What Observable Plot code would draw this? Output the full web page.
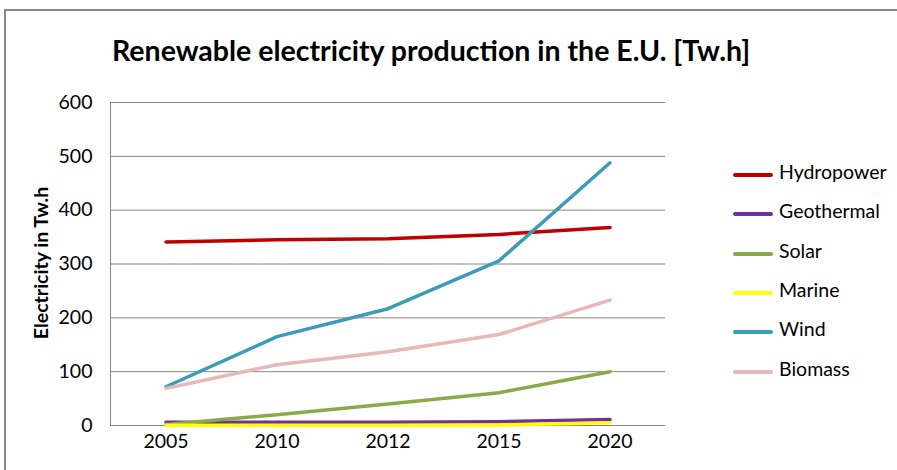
<!DOCTYPE html>
<html>
<head>
<meta charset="utf-8">
<script src="https://cdn.jsdelivr.net/npm/d3@7"></script>
<script src="https://cdn.jsdelivr.net/npm/@observablehq/plot@0.6"></script>
<style>
  html, body { margin: 0; padding: 0; background: #fff; }
  #wrap { position: relative; width: 897px; height: 470px; overflow: hidden; font-family: Lato, "Open Sans", sans-serif; }
  #frame { position: absolute; left: 4px; top: 9px; width: 1000px; height: 1000px; border: 2px solid #888; box-sizing: border-box; }
  #title { position: absolute; left: 112px; top: 33px; font-size: 28.5px; font-weight: bold; color: #000; white-space: nowrap; }
  #ylabel { position: absolute; left: 40px; top: 263px; transform: translate(-50%, -50%) rotate(-90deg); font-size: 19.5px; font-weight: bold; white-space: nowrap; }
  #chart { position: absolute; left: 0; top: 90px; }
  #legend { position: absolute; left: 733px; top: 0; }
  .li { position: absolute; left: 0; white-space: nowrap; font-size: 19.5px; color: #000; }
  .li .sw { position: absolute; left: 0; top: 0; width: 40px; height: 4px; border-radius: 2px; }
  .li span { position: absolute; left: 46px; top: -13px; }
</style>
</head>
<body>
<div id="wrap">
  <div id="frame"></div>
  <div id="title">Renewable electricity production in the E.U. [Tw.h]</div>
  <div id="ylabel">Electricity in Tw.h</div>
  <div id="chart"></div>
  <div id="legend"></div>
</div>
<script>
const years = ["2005", "2010", "2012", "2015", "2020"];
const seriesNames = ["Hydropower", "Geothermal", "Solar", "Marine", "Wind", "Biomass"];
const seriesColors = ["#c00000", "#7030a0", "#8aaa4a", "#ffff00", "#3c9bb8", "#e6b9b8"];
const hydropower = [341, 345, 347, 355, 368];
const geothermal = [6, 6, 6, 7, 11];
const solar = [2, 20, 40, 61, 100];
const marine = [0.5, 0.5, 0.5, 1, 5];
const wind = [72, 165, 217, 306, 488];
const biomass = [69, 113, 137, 169, 233];
const yTicks = [0, 100, 200, 300, 400, 500, 600];

const allValues = [hydropower, geothermal, solar, marine, wind, biomass];
const data = [];
seriesNames.forEach((s, i) => years.forEach((y, j) => data.push({series: s, year: y, value: allValues[i][j]})));

const chart = Plot.plot({
  width: 897,
  height: 370,
  marginLeft: 110,
  marginRight: 232,
  marginTop: 12,
  marginBottom: 35,
  style: {fontFamily: "Lato, 'Open Sans', sans-serif", fontSize: "19.5px", color: "#000", background: "transparent", overflow: "visible"},
  x: {type: "band", domain: years, padding: 0, label: null, tickSize: 0, tickPadding: 9},
  y: {domain: [0, 600], ticks: yTicks, label: null, tickSize: 0, tickPadding: 18},
  color: {domain: seriesNames, range: seriesColors},
  marks: [
    Plot.gridY(yTicks, {stroke: "#868686", strokeOpacity: 1, strokeWidth: 1}),
    Plot.ruleX([0], {x: () => years[0], stroke: "#868686", dx: -55.5}),
    Plot.ruleY([0], {stroke: "#868686"}),
    Plot.line(data, {x: "year", y: "value", z: "series", stroke: "series", strokeWidth: 3.5, strokeLinejoin: "round", strokeLinecap: "round"})
  ]
});
document.getElementById("chart").appendChild(chart);

const legend = document.getElementById("legend");
seriesNames.forEach((s, i) => {
  const d = document.createElement("div");
  d.className = "li";
  d.style.top = (173 + i * 39.3) + "px";
  d.innerHTML = `<div class="sw" style="background:${seriesColors[i]}"></div><span>${s}</span>`;
  legend.appendChild(d);
});
</script>
</body>
</html>
